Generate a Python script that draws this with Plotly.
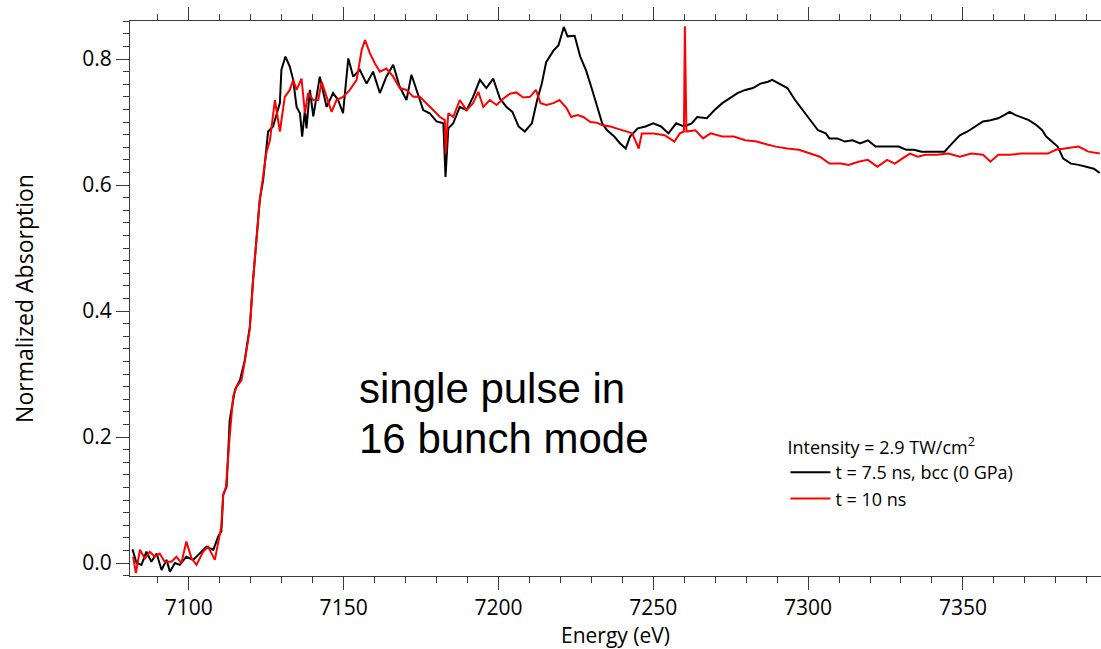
import plotly.graph_objects as go

# ---- data ----
E_black = [7081.8, 7083.1, 7084.7, 7086.3, 7087.9, 7089.6, 7091.2, 7092.8, 7093.9, 7095.5, 7097.1,
           7099.2, 7101.4, 7103.6, 7105.7, 7107.9, 7109.5, 7110.5, 7111.1, 7112.2, 7113.2, 7114.9,
           7116.5, 7118.0, 7119.7, 7120.7, 7122.0, 7122.9, 7124.0, 7125.6, 7127.2, 7129.4, 7129.9,
           7131.2, 7132.6, 7133.7, 7134.8, 7135.9, 7136.6, 7137.5, 7138.0, 7139.1, 7140.2, 7142.3,
           7144.5, 7146.6, 7148.2, 7149.8, 7151.5, 7153.1, 7155.2, 7157.4, 7159.5, 7161.7, 7163.8,
           7166.0, 7168.1, 7170.3, 7171.9, 7173.5, 7175.7, 7177.8, 7180.0, 7182.2, 7182.9, 7183.8,
           7185.4, 7187.5, 7189.7, 7191.8, 7194.0, 7196.1, 7198.3, 7200.5, 7202.6, 7204.5, 7206.5,
           7208.5, 7210.8, 7212.5, 7214.0, 7215.4, 7217.7, 7219.4, 7221.1, 7222.3, 7224.6, 7226.4,
           7228.3, 7230.4, 7232.3, 7233.5, 7235.1, 7237.4, 7239.3, 7241.1, 7242.5, 7245.0, 7247.5,
           7250.0, 7252.5, 7254.9, 7257.4, 7259.9, 7262.4, 7264.2, 7267.3, 7269.8, 7272.3, 7274.7,
           7277.2, 7279.7, 7282.2, 7284.6, 7287.1, 7288.4, 7290.8, 7293.3, 7295.8, 7298.3, 7300.7,
           7303.2, 7305.7, 7306.9, 7309.4, 7311.9, 7314.4, 7316.8, 7319.3, 7321.8, 7324.3, 7326.7,
           7329.2, 7331.7, 7334.2, 7336.6, 7339.1, 7341.6, 7344.1, 7345.9, 7349.0, 7351.5, 7354.0,
           7356.5, 7358.9, 7361.4, 7363.3, 7365.1, 7367.0, 7368.8, 7371.3, 7373.8, 7375.6, 7376.9,
           7378.7, 7380.6, 7382.4, 7384.9, 7387.4, 7389.9, 7392.3, 7394.2]
A_black = [0.022, 0.000, -0.003, 0.018, 0.002, 0.015, -0.011, 0.005, -0.014, 0.000, -0.003,
           0.010, 0.005, 0.015, 0.026, 0.021, 0.042, 0.050, 0.108, 0.121, 0.227, 0.275,
           0.290, 0.320, 0.375, 0.447, 0.530, 0.576, 0.608, 0.685, 0.693, 0.730, 0.783,
           0.804, 0.788, 0.767, 0.724, 0.714, 0.677, 0.719, 0.690, 0.751, 0.709, 0.772,
           0.724, 0.746, 0.735, 0.714, 0.801, 0.772, 0.783, 0.761, 0.780, 0.746, 0.772,
           0.791, 0.756, 0.735, 0.775, 0.751, 0.719, 0.714, 0.701, 0.698, 0.613, 0.690,
           0.698, 0.724, 0.719, 0.740, 0.767, 0.754, 0.769, 0.737, 0.724, 0.716, 0.693,
           0.685, 0.698, 0.735, 0.761, 0.795, 0.813, 0.822, 0.851, 0.836, 0.837, 0.804,
           0.782, 0.749, 0.717, 0.698, 0.687, 0.677, 0.666, 0.658, 0.677, 0.690, 0.693,
           0.698, 0.693, 0.682, 0.698, 0.693, 0.698, 0.708, 0.706, 0.719, 0.730, 0.738,
           0.746, 0.751, 0.754, 0.761, 0.764, 0.767, 0.761, 0.754, 0.735, 0.719, 0.703,
           0.687, 0.682, 0.674, 0.674, 0.669, 0.671, 0.666, 0.671, 0.661, 0.661, 0.661,
           0.661, 0.656, 0.656, 0.653, 0.653, 0.653, 0.653, 0.663, 0.679, 0.685, 0.693,
           0.701, 0.703, 0.706, 0.711, 0.716, 0.711, 0.708, 0.703, 0.695, 0.687, 0.677,
           0.669, 0.661, 0.642, 0.634, 0.632, 0.629, 0.626, 0.619]

E_red = [7082.0, 7082.9, 7084.2, 7085.8, 7087.4, 7089.0, 7090.6, 7092.2, 7094.4, 7096.0, 7097.6,
         7099.2, 7100.9, 7102.5, 7104.6, 7106.2, 7108.4, 7109.5, 7110.5, 7111.1, 7112.0, 7113.2,
         7114.3, 7115.4, 7117.0, 7118.0, 7119.7, 7120.7, 7122.0, 7122.9, 7125.1, 7126.2, 7127.8,
         7129.4, 7131.0, 7132.6, 7133.7, 7134.8, 7136.4, 7137.5, 7138.5, 7140.2, 7141.8, 7142.9,
         7144.5, 7146.1, 7147.7, 7149.8, 7152.0, 7154.2, 7155.8, 7156.9, 7158.5, 7160.1, 7161.7,
         7163.8, 7166.0, 7168.1, 7170.3, 7172.5, 7174.6, 7176.8, 7178.9, 7181.1, 7182.7, 7182.9,
         7183.8, 7185.4, 7187.5, 7189.7, 7191.8, 7193.5, 7195.1, 7197.2, 7199.4, 7201.5, 7203.7,
         7205.8, 7208.0, 7210.2, 7212.1, 7213.6, 7215.5, 7217.7, 7219.7, 7222.0, 7223.5, 7225.5,
         7227.4, 7229.7, 7231.7, 7233.6, 7236.2, 7238.1, 7240.1, 7243.2, 7245.3, 7246.3, 7250.0,
         7253.7, 7256.8, 7258.6, 7259.9, 7260.2, 7260.7, 7263.6, 7266.1, 7268.5, 7272.3, 7276.0,
         7279.7, 7283.4, 7287.1, 7289.6, 7293.3, 7297.0, 7300.7, 7303.8, 7306.9, 7310.6, 7313.1,
         7316.2, 7319.3, 7322.4, 7325.5, 7328.0, 7330.4, 7332.9, 7335.4, 7337.9, 7341.6, 7345.3,
         7349.0, 7352.7, 7356.5, 7358.9, 7361.4, 7365.1, 7368.8, 7373.8, 7377.5, 7380.0, 7383.7,
         7387.4, 7390.5, 7394.2]
A_red = [0.010, -0.016, 0.021, 0.007, 0.018, 0.010, 0.015, 0.002, 0.002, 0.010, 0.000,
         0.034, 0.007, -0.003, 0.018, 0.026, 0.005, 0.036, 0.058, 0.108, 0.121, 0.201,
         0.264, 0.280, 0.290, 0.318, 0.372, 0.445, 0.528, 0.576, 0.653, 0.671, 0.735,
         0.685, 0.740, 0.751, 0.767, 0.751, 0.769, 0.714, 0.746, 0.735, 0.735, 0.764,
         0.740, 0.716, 0.735, 0.740, 0.751, 0.767, 0.814, 0.830, 0.809, 0.793, 0.780,
         0.785, 0.772, 0.754, 0.751, 0.740, 0.740, 0.730, 0.719, 0.708, 0.703, 0.650,
         0.714, 0.708, 0.735, 0.719, 0.730, 0.748, 0.724, 0.735, 0.727, 0.737, 0.745,
         0.747, 0.739, 0.740, 0.751, 0.730, 0.727, 0.730, 0.735, 0.722, 0.708, 0.711,
         0.708, 0.700, 0.699, 0.695, 0.693, 0.690, 0.687, 0.682, 0.658, 0.682, 0.682,
         0.679, 0.669, 0.682, 0.685, 0.852, 0.685, 0.687, 0.674, 0.682, 0.677, 0.677,
         0.671, 0.669, 0.664, 0.661, 0.658, 0.656, 0.650, 0.645, 0.634, 0.634, 0.632,
         0.637, 0.640, 0.629, 0.640, 0.634, 0.642, 0.650, 0.645, 0.648, 0.648, 0.650,
         0.645, 0.650, 0.648, 0.637, 0.648, 0.648, 0.650, 0.650, 0.650, 0.656, 0.658,
         0.661, 0.653, 0.650]

name_black = "t = 7.5 ns, bcc (0 GPa)"
name_red = "t = 10 ns"
legend_title = "Intensity = 2.9 TW/cm<sup>2</sup>"
note_lines = ["single pulse in", "16 bunch mode"]

x_range = [7081, 7394.6]
y_range = [-0.0206, 0.8604]

FONT = "Open Sans"
AX = "#3a3a3a"

fig = go.Figure()
fig.add_trace(go.Scatter(x=E_black, y=A_black, mode="lines", name=name_black,
                         line=dict(color="#000000", width=2)))
fig.add_trace(go.Scatter(x=E_red, y=A_red, mode="lines", name=name_red,
                         line=dict(color="#ff0000", width=2)))
# invisible trace to anchor the mirrored top axis
fig.add_trace(go.Scatter(x=[x_range[0]], y=[y_range[0]], xaxis="x2", mode="markers",
                         marker=dict(opacity=0), showlegend=False, hoverinfo="skip"))

common_x = dict(range=x_range, dtick=50, tick0=7100, ticks="outside", ticklen=13, tickwidth=1,
                tickcolor=AX, showline=True, linecolor=AX, linewidth=1, showgrid=False,
                zeroline=False,
                minor=dict(dtick=10, tick0=7100, ticks="outside", ticklen=6, tickcolor=AX, tickwidth=1))

fig.update_layout(
    width=1101, height=649,
    margin=dict(l=130, r=0, t=21, b=73),
    paper_bgcolor="white", plot_bgcolor="white",
    font=dict(family=FONT, color="#000000"),
    xaxis=dict(**common_x, tickfont=dict(size=21, family=FONT),
               title=dict(text="Energy (eV)", font=dict(size=21, family=FONT), standoff=4)),
    xaxis2=dict(**common_x, overlaying="x", side="top", showticklabels=False),
    yaxis=dict(range=y_range, dtick=0.2, tick0=0, tickformat=".1f", ticks="outside", ticklen=13,
               tickwidth=1, tickcolor=AX, showline=True, linecolor=AX, linewidth=1, showgrid=False,
               zeroline=False, tickfont=dict(size=21, family=FONT),
               minor=dict(dtick=0.02, tick0=0, ticks="outside", ticklen=6, tickcolor=AX, tickwidth=1),
               title=dict(text="Normalized Absorption", font=dict(size=23, family=FONT), standoff=42)),
    legend=dict(x=0.675, y=0.262, xanchor="left", yanchor="top", bgcolor="rgba(0,0,0,0)",
                font=dict(size=18, family=FONT), tracegroupgap=0, itemwidth=40,
                title=dict(text=legend_title, font=dict(size=18, family=FONT))),
    showlegend=True,
)

fig.add_annotation(x=0.234, y=0.3387, xref="paper", yref="paper", xanchor="left", yanchor="middle",
                   text=note_lines[0], showarrow=False,
                   font=dict(size=42, family="Liberation Sans", color="#000000"))
fig.add_annotation(x=0.234, y=0.2486, xref="paper", yref="paper", xanchor="left", yanchor="middle",
                   text=note_lines[1], showarrow=False,
                   font=dict(size=42, family="Liberation Sans", color="#000000"))

fig.write_html("out.html")
